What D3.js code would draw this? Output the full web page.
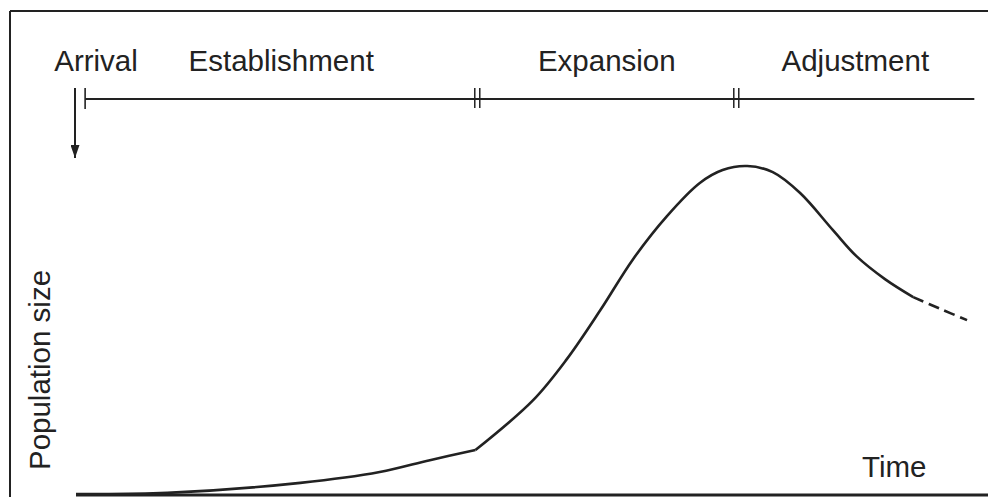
<!DOCTYPE html>
<html>
<head>
<meta charset="utf-8">
<script src="https://cdn.jsdelivr.net/npm/d3@7"></script>
<style>
  body { margin: 0; background: #fff; }
  svg text { font-family: "Liberation Sans", Arial, sans-serif; fill: #222; }
</style>
</head>
<body>
<script>
const WIDTH = 988, HEIGHT = 497;
const INK = "#222";

// phase boundaries on the time axis (0..100)
const phaseNames = ["Establishment", "Expansion", "Adjustment"];
const phaseBounds = [1, 44, 72.4, 98.5];
const arrivalTime = 0;

// population curve, solid part (time, size)
const solidTime = [0, 10, 24.6, 33.3, 38.8, 43.8, 50.1, 53.8, 57.5, 61.1, 64.8, 68.4, 70.9, 73.6, 76.4, 79.4, 83.0, 85.6, 88.7, 91.8];
const solidSize = [0, 0.3, 3.1, 6.1, 9.4, 12.2, 26.0, 37.4, 51.1, 65.3, 77.2, 86.4, 90.0, 91.1, 89.4, 83.6, 73.3, 66.0, 59.7, 54.7];
// projected part (dashed)
const dashTime = [91.8, 94.7, 97.7];
const dashSize = [54.7, 51.5, 48.3];

const x = d3.scaleLinear().domain([0, 100]).range([76, 988]);
const y = d3.scaleLinear().domain([0, 100]).range([494, 134]);

const svg = d3.select("body").append("svg")
    .attr("width", WIDTH)
    .attr("height", HEIGHT);

// frame: top, left, bottom axis
svg.append("line").attr("x1", 10).attr("x2", WIDTH).attr("y1", 11).attr("y2", 11)
    .attr("stroke", INK).attr("stroke-width", 2);
svg.append("line").attr("x1", 10).attr("x2", 10).attr("y1", 11).attr("y2", HEIGHT)
    .attr("stroke", INK).attr("stroke-width", 2);
svg.append("line").attr("x1", x(0)).attr("x2", WIDTH).attr("y1", 495).attr("y2", 495)
    .attr("stroke", INK).attr("stroke-width", 3);

// timeline of phases
const TL_Y = 99;
svg.append("line")
    .attr("x1", x(phaseBounds[0])).attr("x2", x(phaseBounds[phaseBounds.length - 1]))
    .attr("y1", TL_Y).attr("y2", TL_Y)
    .attr("stroke", INK).attr("stroke-width", 1.8);
svg.append("line")
    .attr("x1", x(phaseBounds[0])).attr("x2", x(phaseBounds[0]))
    .attr("y1", TL_Y - 11).attr("y2", TL_Y + 10)
    .attr("stroke", INK).attr("stroke-width", 1.6);
phaseBounds.slice(1, -1).forEach(b => {
    [-2.5, 2.5].forEach(off => {
        svg.append("line")
            .attr("x1", x(b) + off).attr("x2", x(b) + off)
            .attr("y1", TL_Y - 11).attr("y2", TL_Y + 9)
            .attr("stroke", INK).attr("stroke-width", 1.5);
    });
});

// labels
svg.selectAll("text.phase")
    .data(phaseNames)
    .enter().append("text")
    .attr("class", "phase")
    .attr("x", (d, i) => (x(phaseBounds[i]) + x(phaseBounds[i + 1])) / 2)
    .attr("y", 71)
    .attr("text-anchor", "middle")
    .style("font-size", "29.5px")
    .text(d => d);
svg.append("text")
    .attr("x", x(arrivalTime) + 20).attr("y", 71)
    .attr("text-anchor", "middle")
    .style("font-size", "29.5px")
    .text("Arrival");

// arrival arrow
svg.append("defs").append("marker")
    .attr("id", "head")
    .attr("viewBox", "0 0 13 9")
    .attr("refX", 13).attr("refY", 4.5)
    .attr("markerWidth", 13).attr("markerHeight", 9)
    .attr("markerUnits", "userSpaceOnUse")
    .attr("orient", "auto")
    .append("path").attr("d", "M0,0L13,4.5L0,9Z").attr("fill", INK);
svg.append("line")
    .attr("x1", x(arrivalTime) - 1).attr("x2", x(arrivalTime) - 1)
    .attr("y1", 88).attr("y2", 158)
    .attr("stroke", INK).attr("stroke-width", 2)
    .attr("marker-end", "url(#head)");

// population curve
const line = d3.line()
    .x(d => x(d[0]))
    .y(d => y(d[1]))
    .curve(d3.curveCatmullRom.alpha(0.5));
const kink = solidTime.indexOf(43.8);
const solid = solidTime.map((t, i) => [t, solidSize[i]]);
svg.append("path")
    .attr("d", line(solid.slice(0, kink + 1)))
    .attr("fill", "none").attr("stroke", INK).attr("stroke-width", 2.6);
svg.append("path")
    .attr("d", line(solid.slice(kink)))
    .attr("fill", "none").attr("stroke", INK).attr("stroke-width", 2.6);
svg.append("path")
    .attr("d", line(dashTime.map((t, i) => [t, dashSize[i]])))
    .attr("fill", "none").attr("stroke", INK).attr("stroke-width", 2.6)
    .attr("stroke-dasharray", "11,6");

// axis titles
svg.append("text")
    .attr("transform", "translate(50,370) rotate(-90)")
    .attr("text-anchor", "middle")
    .style("font-size", "29.5px")
    .text("Population size");
svg.append("text")
    .attr("x", 862).attr("y", 477)
    .style("font-size", "29.5px")
    .text("Time");
</script>
</body>
</html>
